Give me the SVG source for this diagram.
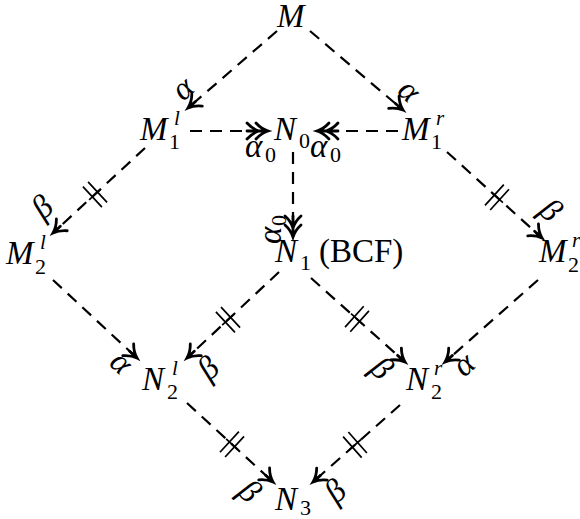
<svg xmlns="http://www.w3.org/2000/svg" width="580" height="519" viewBox="0 0 580 519">
<style>
.mi{font-family:"Liberation Serif","Times New Roman",serif;font-style:italic;font-size:33px;fill:#000}
.rm{font-family:"Liberation Serif","Times New Roman",serif;font-size:33px;fill:#000}
.sb{font-family:"Liberation Serif","Times New Roman",serif;font-size:22px;fill:#000}
.sp{font-family:"Liberation Serif","Times New Roman",serif;font-style:italic;font-size:21px;fill:#000}
.lb{font-family:"Liberation Serif","Times New Roman",serif;font-style:italic;font-size:33px;fill:#000;text-anchor:middle}
.e{fill:none;stroke:#000;stroke-width:2.2;stroke-dasharray:12 8}
.s{marker-end:url(#ah)}
.d{marker-end:url(#ah2)}
.mk{fill:none;stroke:#000;stroke-width:1.7}
</style>
<defs>
<marker id="ah" markerUnits="userSpaceOnUse" orient="auto" refX="0" refY="0" markerWidth="1" markerHeight="1" overflow="visible">
<path d="M-12,-8 C-7.5,-3 -2.5,-0.8 0,0 C-2.5,0.8 -7.5,3 -12,8 M-10,0 H0" fill="none" stroke="#000" stroke-width="2.8" stroke-linecap="round"/>
</marker>
<marker id="ah2" markerUnits="userSpaceOnUse" orient="auto" refX="0" refY="0" markerWidth="1" markerHeight="1" overflow="visible">
<path d="M-12,-8 C-7.5,-3 -2.5,-0.8 0,0 C-2.5,0.8 -7.5,3 -12,8 M-21,-8 C-16.5,-3 -11.5,-0.8 -9,0 C-11.5,0.8 -16.5,3 -21,8 M-21,0 H0" fill="none" stroke="#000" stroke-width="2.8" stroke-linecap="round"/>
</marker>
</defs>

<g id="connectors">
<line class="e s" x1="277" y1="31" x2="188" y2="108"/>
<line class="e s" x1="310" y1="31" x2="403" y2="110"/>
<line class="e d" x1="190" y1="131" x2="268" y2="131"/>
<line class="e d" x1="398" y1="131" x2="317" y2="131"/>
<line class="e d" x1="293" y1="152" x2="293" y2="237"/>
<line class="e s" x1="145" y1="148" x2="53" y2="233"/>
<line class="e s" x1="447" y1="152" x2="542" y2="238"/>
<line class="e s" x1="53" y1="280" x2="137" y2="358"/>
<line class="e s" x1="279" y1="272" x2="187" y2="358"/>
<line class="e s" x1="311" y1="278" x2="405" y2="362"/>
<line class="e s" x1="538" y1="280" x2="445" y2="362"/>
<line class="e s" x1="187" y1="403" x2="273" y2="482"/>
<line class="e s" x1="400" y1="405" x2="313" y2="482"/>
<g id="marks">
<path class="mk" transform="translate(95,194.5) rotate(137.3)" d="M-3.5,-14 V14 M3.5,-14 V14 M-8,0 H8"/>
<path class="mk" transform="translate(497,197.3) rotate(42.2)" d="M-3.5,-14 V14 M3.5,-14 V14 M-8,0 H8"/>
<path class="mk" transform="translate(228,319.7) rotate(137.1)" d="M-3.5,-14 V14 M3.5,-14 V14 M-8,0 H8"/>
<path class="mk" transform="translate(357,319) rotate(41.8)" d="M-3.5,-14 V14 M3.5,-14 V14 M-8,0 H8"/>
<path class="mk" transform="translate(232,444.3) rotate(42.6)" d="M-3.5,-14 V14 M3.5,-14 V14 M-8,0 H8"/>
<path class="mk" transform="translate(355,444.8) rotate(138.5)" d="M-3.5,-14 V14 M3.5,-14 V14 M-8,0 H8"/>
</g>
<g id="labels">
<text class="lb" transform="translate(185,91) rotate(-42)" y="7">α</text>
<text class="lb" transform="translate(407,93) rotate(42)" y="7">α</text>
<text class="mi" x="245" y="157">α<tspan class="sb" font-style="normal" x="265" y="162">0</tspan></text>
<text class="mi" x="310" y="157">α<tspan class="sb" font-style="normal" x="330" y="162">0</tspan></text>
<g transform="translate(274,231) rotate(-90)"><text class="mi" x="-13" y="7">α<tspan class="sb" font-style="normal" x="5" y="12">0</tspan></text></g>
<text class="lb" transform="translate(44,209) rotate(-42)" y="8">β</text>
<text class="lb" transform="translate(549,212) rotate(42)" y="8">β</text>
<text class="lb" transform="translate(119,365) rotate(43)" y="7">α</text>
<text class="lb" transform="translate(210,370) rotate(-42)" y="8">β</text>
<text class="lb" transform="translate(380,370) rotate(42)" y="8">β</text>
<text class="lb" transform="translate(466,367) rotate(-42)" y="7">α</text>
<text class="lb" transform="translate(248,493) rotate(42)" y="8">β</text>
<text class="lb" transform="translate(337,493) rotate(-42)" y="8">β</text>
</g>
</g>

<g id="M"><text class="mi" x="277" y="27">M</text></g>
<g id="M1l"><text class="mi" x="140" y="140">M</text><text class="sb" x="169" y="149">1</text><text class="sp" x="174" y="125">l</text></g>
<g id="N0"><text class="mi" x="274" y="140">N</text><text class="sb" x="299" y="148">0</text></g>
<g id="M1r"><text class="mi" x="402" y="140">M</text><text class="sb" x="431" y="149">1</text><text class="sp" x="436" y="125">r</text></g>
<g id="M2l"><text class="mi" x="6" y="264">M</text><text class="sb" x="35" y="274">2</text><text class="sp" x="40" y="249">l</text></g>
<g id="N1"><text class="mi" x="275" y="262">N</text><text class="sb" x="300" y="270">1</text><text class="rm" x="319" y="262">(BCF)</text></g>
<g id="M2r"><text class="mi" x="539" y="262">M</text><text class="sb" x="568" y="272">2</text><text class="sp" x="572" y="247">r</text></g>
<g id="N2l"><text class="mi" x="142" y="390">N</text><text class="sb" x="167" y="399">2</text><text class="sp" x="172" y="375">l</text></g>
<g id="N2r"><text class="mi" x="406" y="390">N</text><text class="sb" x="431" y="399">2</text><text class="sp" x="434" y="375">r</text></g>
<g id="N3"><text class="mi" x="275" y="510">N</text><text class="sb" x="300" y="515">3</text></g>
</svg>
